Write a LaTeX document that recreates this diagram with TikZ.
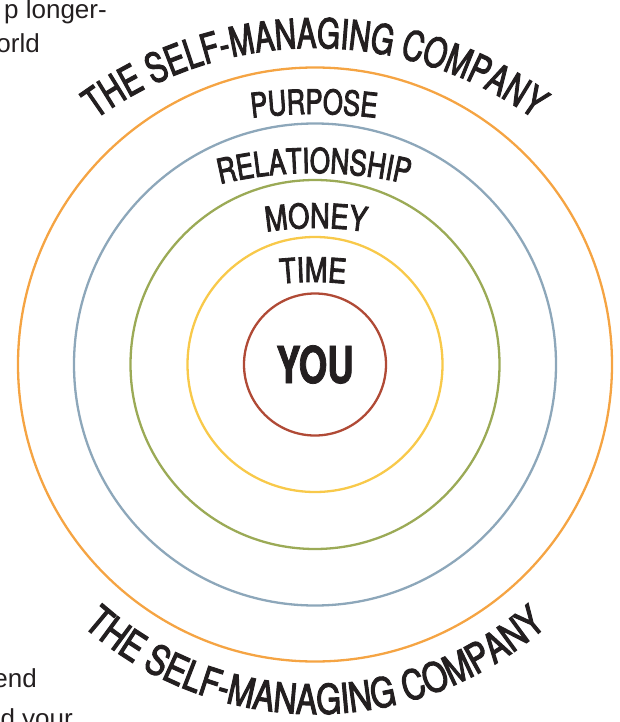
\documentclass[tikz,border=0pt]{standalone}
\usepackage{fontspec}
\usetikzlibrary{decorations.text}
\setmainfont{Liberation Sans}
\newfontfamily\lblfont{texgyreheros-regular.otf}[FakeStretch=0.8,FakeBold=2.5]
\newfontfamily\lblnarrow{texgyreheros-regular.otf}[FakeStretch=0.75,FakeBold=2.5]
\newfontfamily\youfont{texgyreheros-bold.otf}[FakeStretch=0.72,FakeBold=1.5]
\newfontfamily\outfont{texgyreheros-regular.otf}[FakeStretch=0.78,FakeBold=2.5]
\newfontfamily\outtopfont{texgyreheros-regular.otf}[FakeStretch=0.72,FakeBold=2.5]
\definecolor{txt}{HTML}{231F20}
\definecolor{ringorange}{HTML}{F5A443}
\definecolor{ringblue}{HTML}{8DA7BA}
\definecolor{ringgreen}{HTML}{9BAA56}
\definecolor{ringyellow}{HTML}{F8C94A}
\definecolor{ringred}{HTML}{B04A36}
\begin{document}
\begin{tikzpicture}[x=1pt,y=1pt,
  ring/.style={draw=#1,line width=2.3pt,circle,inner sep=0pt},
  curvetext/.style={decorate,decoration={text along path,text align=center,text color=txt,text={#1}}},
  body/.style={font=\fontsize{26}{26}\selectfont,text=txt,inner sep=0pt}]
\useasboundingbox (0,0) rectangle (620,-722);
\coordinate (c) at (315,-364.5);
% rings
\node[ring=ringorange,minimum size=594pt] (r5) at (c) {};
\node[ring=ringblue,minimum size=482pt] (r4) at (c) {};
\node[ring=ringgreen,minimum size=369pt] (r3) at (c) {};
\node[ring=ringyellow,minimum size=255pt] (r2) at (c) {};
\node[ring=ringred,minimum size=142pt,text=txt,font=\youfont\fontsize{51}{51}\selectfont] (r1) at (c) {YOU};
% ring labels
\path[curvetext={|\lblnarrow\fontsize{34}{34}\selectfont|PURPOSE}]
  (314,-614) ++(115:500) arc[start angle=115,end angle=65,radius=500];
\path[curvetext={|\lblnarrow\fontsize{34.5}{34.5}\selectfont|RELATIONSHIP}]
  (314,-573) ++(120:400) arc[start angle=120,end angle=60,radius=400];
\path[curvetext={|\lblfont\fontsize{34}{34}\selectfont|MONEY}]
  (316,-548) ++(125:320) arc[start angle=125,end angle=55,radius=320];
\path[curvetext={|\lblfont\fontsize{34}{34}\selectfont|TIME}]
  (313,-582) ++(120:300) arc[start angle=120,end angle=60,radius=300];
% outer titles
\path[curvetext={|\outtopfont\fontsize{41}{41}\selectfont|THE SELF-MANAGING COMPANY}]
  (315,-421) ++(145:373) arc[start angle=145,end angle=35,radius=373];
\path[curvetext={|\outfont\fontsize{41}{41}\selectfont|THE SELF-MANAGING COMPANY}]
  (315,-364) ++(200:350) arc[start angle=200,end angle=340,radius=350];
% cropped body text
\node[body,anchor=base east] (t1) at (107,-19) {p longer-};
\node[body,anchor=base east] (t2) at (40,-53) {orld};
\node[body,anchor=base east] (t3) at (37,-687) {end};
\node[body,anchor=base east] (t4) at (73,-727) {d your};
\end{tikzpicture}
\end{document}
